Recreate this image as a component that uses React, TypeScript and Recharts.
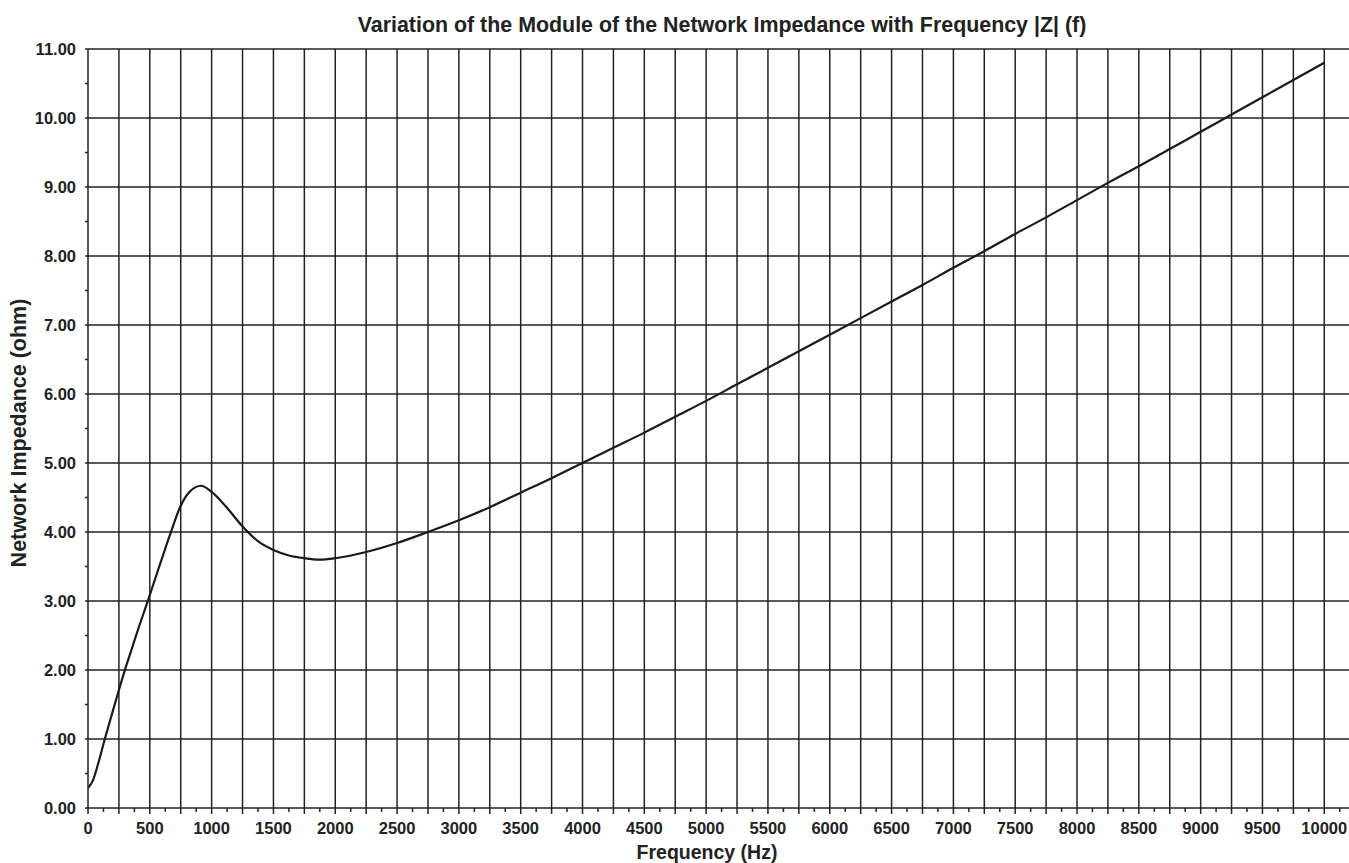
import { LineChart, Line, XAxis, YAxis, ReferenceLine } from 'recharts'

const INK = '#222'
const FONT = '"Liberation Sans", Arial, Helvetica, sans-serif'

// frequency (Hz) and |Z| (ohm)
const freqHz = [
  0, 40, 80, 136, 200, 250, 293, 360, 400, 495, 580, 665, 750, 820, 915, 1000, 1115, 1250, 1380, 1500,
  1625, 1750, 1870, 2000, 2250, 2500, 2750, 3000, 3250, 3500, 3750, 4000, 4250, 4500, 4750, 5000, 5250,
  5500, 5750, 6000, 6250, 6500, 6750, 7000, 7250, 7500, 7750, 8000, 8250, 8500, 8750, 9000, 9250, 9500,
  9750, 10000,
]
const impedance = [
  0.29, 0.4, 0.63, 1.0, 1.4, 1.71, 1.97, 2.34, 2.56, 3.06, 3.52, 3.97, 4.38, 4.58, 4.67, 4.58, 4.37, 4.08, 3.86, 3.74,
  3.66, 3.62, 3.6, 3.62, 3.71, 3.84, 4.0, 4.17, 4.36, 4.57, 4.78, 5.0, 5.22, 5.44, 5.67, 5.9, 6.14,
  6.38, 6.62, 6.86, 7.1, 7.34, 7.58, 7.83, 8.07, 8.32, 8.56, 8.81, 9.06, 9.3, 9.55, 9.8, 10.05, 10.3,
  10.55, 10.8,
]

// labelled ticks
const freqLabels = [0, 500, 1000, 1500, 2000, 2500, 3000, 3500, 4000, 4500, 5000, 5500, 6000, 6500, 7000, 7500, 8000, 8500, 9000, 9500, 10000]
const ohmLabels = [0, 1, 2, 3, 4, 5, 6, 7, 8, 9, 10, 11]

// minor ticks every 125 Hz / 0.5 ohm, grid every 250 Hz / 1 ohm
const freqTicks: number[] = []
for (let f = 0; f <= 10125; f += 125) freqTicks.push(f)
const freqGrid = freqTicks.filter((f) => f > 0 && f % 250 === 0 && f <= 10000)
const ohmTicks: number[] = []
for (let v = 0; v <= 11; v += 0.5) ohmTicks.push(v)

const data = freqHz.map((f, i) => ({ f, z: impedance[i] }))

const FreqTick = (props: any) => {
  const { x, y, payload } = props
  const v = payload.value as number
  const major = v % 250 === 0
  return (
    <g>
      <line x1={x} x2={x} y1={y} y2={y + (major ? 6 : 4)} stroke={INK} strokeWidth={1.5} />
      {freqLabels.includes(v) && (
        <text x={x} y={y + 26} textAnchor="middle" fill={INK} fontSize={16.5} fontWeight="bold" fontFamily={FONT}>
          {v}
        </text>
      )}
    </g>
  )
}

const OhmTick = (props: any) => {
  const { x, y, payload } = props
  const v = payload.value as number
  return (
    <g>
      <line x1={x - 3} x2={x} y1={y} y2={y} stroke={INK} strokeWidth={1.5} />
      {ohmLabels.includes(v) && (
        <text x={x - 12} y={y + 6} textAnchor="end" fill={INK} fontSize={16.5} fontWeight="bold" fontFamily={FONT}>
          {v.toFixed(2)}
        </text>
      )}
    </g>
  )
}

export default function App() {
  return (
    <div style={{ position: 'absolute', left: 0, top: 0, width: 1349, height: 863, background: '#fff' }}>
      <LineChart width={1349} height={863} data={data} margin={{ top: 49, right: 0, bottom: 25, left: 0 }}>
        {freqGrid.map((f) => (
          <ReferenceLine key={`x${f}`} x={f} stroke={INK} strokeWidth={1.5} />
        ))}
        {ohmLabels.slice(1).map((v) => (
          <ReferenceLine key={`y${v}`} y={v} stroke={INK} strokeWidth={1.5} />
        ))}
        <XAxis
          dataKey="f"
          type="number"
          domain={[0, 10200]}
          ticks={freqTicks}
          interval={0}
          allowDataOverflow
          height={30}
          tickSize={0}
          tickMargin={0}
          tickLine={false}
          axisLine={{ stroke: INK, strokeWidth: 1.5 }}
          tick={<FreqTick />}
        />
        <YAxis
          type="number"
          width={88}
          domain={[0, 11]}
          ticks={ohmTicks}
          interval={0}
          tickSize={0}
          tickMargin={0}
          tickLine={false}
          axisLine={{ stroke: INK, strokeWidth: 1.5 }}
          tick={<OhmTick />}
        />
        <Line
          type="monotone"
          dataKey="z"
          stroke="#1a1a1a"
          strokeWidth={2.2}
          dot={false}
          isAnimationActive={false}
        />
      </LineChart>
      <svg width={1349} height={863} style={{ position: 'absolute', left: 0, top: 0, pointerEvents: 'none' }}>
        <text x={722} y={32} textAnchor="middle" fill={INK} fontSize={21.4} fontWeight="bold" fontFamily={FONT}>
          Variation of the Module of the Network Impedance with Frequency |Z| (f)
        </text>
        <text x={707} y={859} textAnchor="middle" fill={INK} fontSize={19.5} fontWeight="bold" fontFamily={FONT}>
          Frequency (Hz)
        </text>
        <text
          x={0}
          y={0}
          transform="translate(26,433) rotate(-90)"
          textAnchor="middle"
          fill={INK}
          fontSize={21.5}
          fontWeight="bold"
          fontFamily={FONT}
        >
          Network Impedance (ohm)
        </text>
      </svg>
    </div>
  )
}
